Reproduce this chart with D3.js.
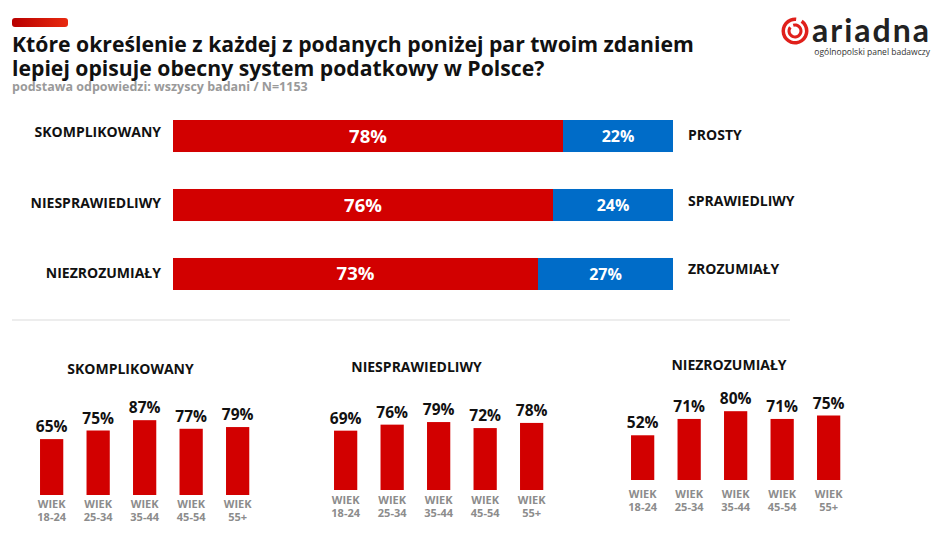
<!DOCTYPE html>
<html><head><meta charset="utf-8">
<script src="https://cdn.jsdelivr.net/npm/d3@7"></script>
<style>
html,body{margin:0;padding:0;background:#fff;}
svg{display:block;font-family:"Open Sans",sans-serif;}
</style></head>
<body>
<svg id="c" width="946" height="543"></svg>
<script>
// ---- data ----
const titleLines = ["Które określenie z każdej z podanych poniżej par twoim zdaniem", "lepiej opisuje obecny system podatkowy w Polsce?"];
const subtitle = "podstawa odpowiedzi: wszyscy badani / N=1153";
const categories = ["SKOMPLIKOWANY", "NIESPRAWIEDLIWY", "NIEZROZUMIAŁY"];
const opposites = ["PROSTY", "SPRAWIEDLIWY", "ZROZUMIAŁY"];
const negValues = [78, 76, 73];
const posValues = [22, 24, 27];
const ageGroups = ["WIEK 18-24", "WIEK 25-34", "WIEK 35-44", "WIEK 45-54", "WIEK 55+"];
const ageSkomplikowany = [65, 75, 87, 77, 79];
const ageNiesprawiedliwy = [69, 76, 79, 72, 78];
const ageNiezrozumialy = [52, 71, 80, 71, 75];

const RED = "#d20000", BLUE = "#006cc8";
const svg = d3.select("#c");

// accent bar
const defs = svg.append("defs");
const g1 = defs.append("linearGradient").attr("id","acc");
g1.append("stop").attr("offset","0%").attr("stop-color","#b80000");
g1.append("stop").attr("offset","100%").attr("stop-color","#e82a10");
svg.append("rect").attr("x",12).attr("y",18).attr("width",56).attr("height",9).attr("rx",3).attr("fill","url(#acc)");

// title
svg.append("g").selectAll("text").data(titleLines).join("text")
  .attr("x",12).attr("y",(d,i)=>52+i*23.5)
  .attr("font-size",21.2).attr("font-weight",700).attr("fill","#111")
  .text(d=>d);
svg.append("text").attr("x",12).attr("y",91).attr("font-size",12.5).attr("font-weight",700)
  .attr("fill","#9a9a9a").text(subtitle);

// logo
const logo = svg.append("g");
const arcGen = d3.arc();
logo.append("path").attr("transform","translate(795,31)")
  .attr("d",arcGen({innerRadius:10,outerRadius:13.5,startAngle:0.6,endAngle:2*Math.PI+0.1})).attr("fill","#e0201b");
logo.append("path").attr("transform","translate(795,31)")
  .attr("d",arcGen({innerRadius:4.5,outerRadius:7.5,startAngle:-0.3,endAngle:2*Math.PI-0.9})).attr("fill","#e0201b");
logo.append("text").attr("x",812).attr("y",42).attr("font-family","Lato, sans-serif").attr("font-size",32)
  .attr("font-weight",700).attr("fill","#222").attr("letter-spacing",2).text("ariadna");
logo.append("text").attr("x",930).attr("y",55).attr("text-anchor","end").attr("font-size",8.5)
  .attr("fill","#333").text("ogólnopolski panel badawczy");

// ---- top stacked bars ----
const xTop = d3.scaleLinear().domain([0,100]).range([173,673]);
const yTop = d3.scaleBand().domain(categories).range([99.3,310.7]).paddingInner(0.536).paddingOuter(0.3);
const topG = svg.append("g");
categories.forEach((c,i)=>{
  const yy = yTop(c), h = yTop.bandwidth(), cy = yy + h/2;
  topG.append("rect").attr("x",xTop(0)).attr("y",yy).attr("width",xTop(negValues[i])-xTop(0)).attr("height",h).attr("fill",RED);
  topG.append("rect").attr("x",xTop(negValues[i])).attr("y",yy).attr("width",xTop(100)-xTop(negValues[i])).attr("height",h).attr("fill",BLUE);
  topG.append("text").attr("x",(xTop(0)+xTop(negValues[i]))/2).attr("y",cy+6.5).attr("text-anchor","middle")
    .attr("font-size",18.5).attr("font-weight",700).attr("fill","#fff").text(negValues[i]+"%");
  topG.append("text").attr("x",(xTop(negValues[i])+xTop(100))/2).attr("y",cy+6).attr("text-anchor","middle")
    .attr("font-size",16).attr("font-weight",700).attr("fill","#fff").text(posValues[i]+"%");
  topG.append("text").attr("x",161).attr("y",cy+[1,3,4][i]).attr("text-anchor","end")
    .attr("font-size",14).attr("font-weight",700).attr("fill","#111").text(c);
  topG.append("text").attr("x",688).attr("y",cy+[4,1,0][i]).attr("text-anchor","start")
    .attr("font-size",14).attr("font-weight",700).attr("fill","#111").text(opposites[i]);
});

// separator
svg.append("line").attr("x1",12).attr("x2",790).attr("y1",320).attr("y2",320).attr("stroke","#dcdcdc").attr("stroke-width",1.2);

// ---- small multiples ----
const panels = [
  {title:"SKOMPLIKOWANY", values:ageSkomplikowany, x0:28.4, base:495, tx:130.5, ty:374, ly:508},
  {title:"NIESPRAWIEDLIWY", values:ageNiesprawiedliwy, x0:322.4, base:490, tx:416.5, ty:372, ly:504},
  {title:"NIEZROZUMIAŁY", values:ageNiezrozumialy, x0:619.4, base:480, tx:729, ty:370, ly:498}
];
const hScale = d3.scaleLinear().domain([0,100]).range([0,86]);
panels.forEach(p=>{
  const g = svg.append("g");
  const bx = d3.scaleBand().domain(ageGroups).range([p.x0,p.x0+232.5]).paddingInner(0.5).paddingOuter(0.25);
  g.append("text").attr("x",p.tx).attr("y",p.ty).attr("text-anchor","middle")
    .attr("font-size",14).attr("font-weight",700).attr("fill","#111").text(p.title);
  g.selectAll("rect").data(p.values).join("rect")
    .attr("x",(d,i)=>bx(ageGroups[i])).attr("width",bx.bandwidth())
    .attr("y",d=>p.base-hScale(d)).attr("height",d=>hScale(d)).attr("fill",RED);
  g.selectAll("text.v").data(p.values).join("text").attr("class","v")
    .attr("x",(d,i)=>bx(ageGroups[i])+bx.bandwidth()/2).attr("y",d=>p.base-hScale(d)-7)
    .attr("text-anchor","middle").attr("font-size",15.5).attr("font-weight",700).attr("fill","#111").text(d=>d+"%");
  [0,1].forEach(k=>{
    g.selectAll("text.l"+k).data(ageGroups).join("text").attr("class","l"+k)
      .attr("x",d=>bx(d)+bx.bandwidth()/2).attr("y",p.ly+k*13).attr("text-anchor","middle")
      .attr("font-size",11).attr("font-weight",700).attr("fill","#8c8c8c").text(d=>d.split(" ")[k]);
  });
});
</script>
</body></html>
